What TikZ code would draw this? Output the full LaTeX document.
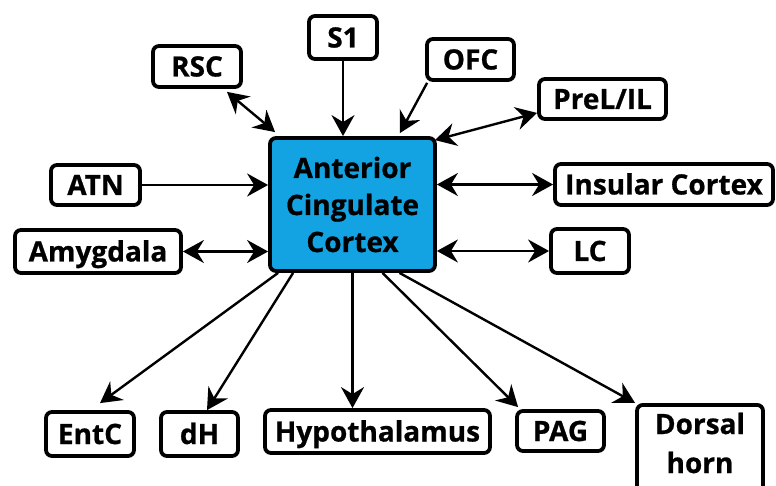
\documentclass[tikz,border=0pt]{standalone}
\usepackage{fontspec}
\setmainfont{Open Sans}[BoldFeatures={FakeBold=0.7}]
\usetikzlibrary{arrows.meta}
\definecolor{accblue}{RGB}{20,163,226}
\begin{document}
\begin{tikzpicture}[x=1pt,y=-1pt,
  frame/.style={draw, line width=3.8pt, rounded corners=6pt, inner sep=0pt,
    font=\fontsize{28}{37}\selectfont\bfseries},
  box/.style={frame, text height=20pt, text depth=0pt},
  label text/.style={font=\fontsize{28}{39}\selectfont\bfseries, inner sep=0pt},
  link/.style={line width=2.4pt},
  >={Stealth[length=21pt,width=23pt,inset=7pt]}]
\useasboundingbox (0,0) rectangle (776,486);

% central region
\node[frame, fill=accblue, align=center, minimum width=165pt, minimum height=133pt]
  (acc) at (352.5,204.5) {Anterior\\Cingulate\\Cortex};

% upper and side regions
\node[box, minimum width=68pt,  minimum height=43pt] (s1)   at (343,37.5)   {S1};
\node[box, minimum width=88pt,  minimum height=41pt] (rsc)  at (197,66.5)   {RSC};
\node[box, minimum width=87pt,  minimum height=41pt] (ofc)  at (470.5,59.5) {OFC};
\node[box, minimum width=127pt, minimum height=40pt] (prel) at (602.5,99)   {PreL/IL};
\node[box, minimum width=89pt,  minimum height=40pt] (atn)  at (95.5,185)   {ATN};
\node[box, minimum width=166pt, minimum height=43pt] (amy)  at (98,251.5)   {Amygdala};
\node[box, minimum width=218pt, minimum height=41pt] (ins)  at (664,184.5)  {Insular Cortex};
\node[box, minimum width=78pt,  minimum height=44pt] (lc)   at (590,251)    {LC};

% lower targets
\node[box, minimum width=88pt,  minimum height=44pt] (entc) at (90,434)     {EntC};
\node[box, minimum width=77pt,  minimum height=44pt] (dh)   at (199.5,434)  {dH};
\node[box, minimum width=225pt, minimum height=43pt] (hyp)  at (377.5,431.5){Hypothalamus};
\node[box, minimum width=87pt,  minimum height=40pt] (pag)  at (560.5,431)  {PAG};
\node[frame, minimum width=126pt, minimum height=100pt, anchor=north] (dorsal) at (700,403) {};
\node[label text, align=center] (dorsaltxt) at ([yshift=-40pt]dorsal.north) {Dorsal\\horn};

% connections
\draw[link,<->] ([xshift=30pt,yshift=-3pt]rsc.south) -- ([xshift=7pt,yshift=4pt]acc.north west);
\draw[link,->]  (s1.south) -- (s1.south |- acc.north);
\draw[link,->]  ([xshift=2pt,yshift=-1pt]ofc.south west) -- ([xshift=-37pt,yshift=3pt]acc.north east);
\draw[link,<->] ([xshift=-2pt,yshift=-4pt]acc.north east) -- ([yshift=8pt]prel.south west);
\draw[link,->]  (atn.east) -- (atn.east -| acc.west);
\draw[link,<->] (amy.east) -- (amy.east -| acc.west);
\draw[link,<->] (ins.west -| acc.east) -- (ins.west);
\draw[link,<->] (lc.west -| acc.east) -- (lc.west);

\draw[link,->] ([xshift=10pt]acc.south west) -- ([xshift=10pt,yshift=7pt]entc.north);
\draw[link,->] ([xshift=25pt]acc.south west) -- ([xshift=7.5pt]dh.north);
\draw[link,->] (acc.south) -- (acc.south |- hyp.north);
\draw[link,->] ([xshift=30pt]acc.south) -- ([xshift=3pt,yshift=2pt]pag.north west);
\draw[link,->] ([xshift=47pt]acc.south) -- (dorsal.north west);
\end{tikzpicture}
\end{document}
